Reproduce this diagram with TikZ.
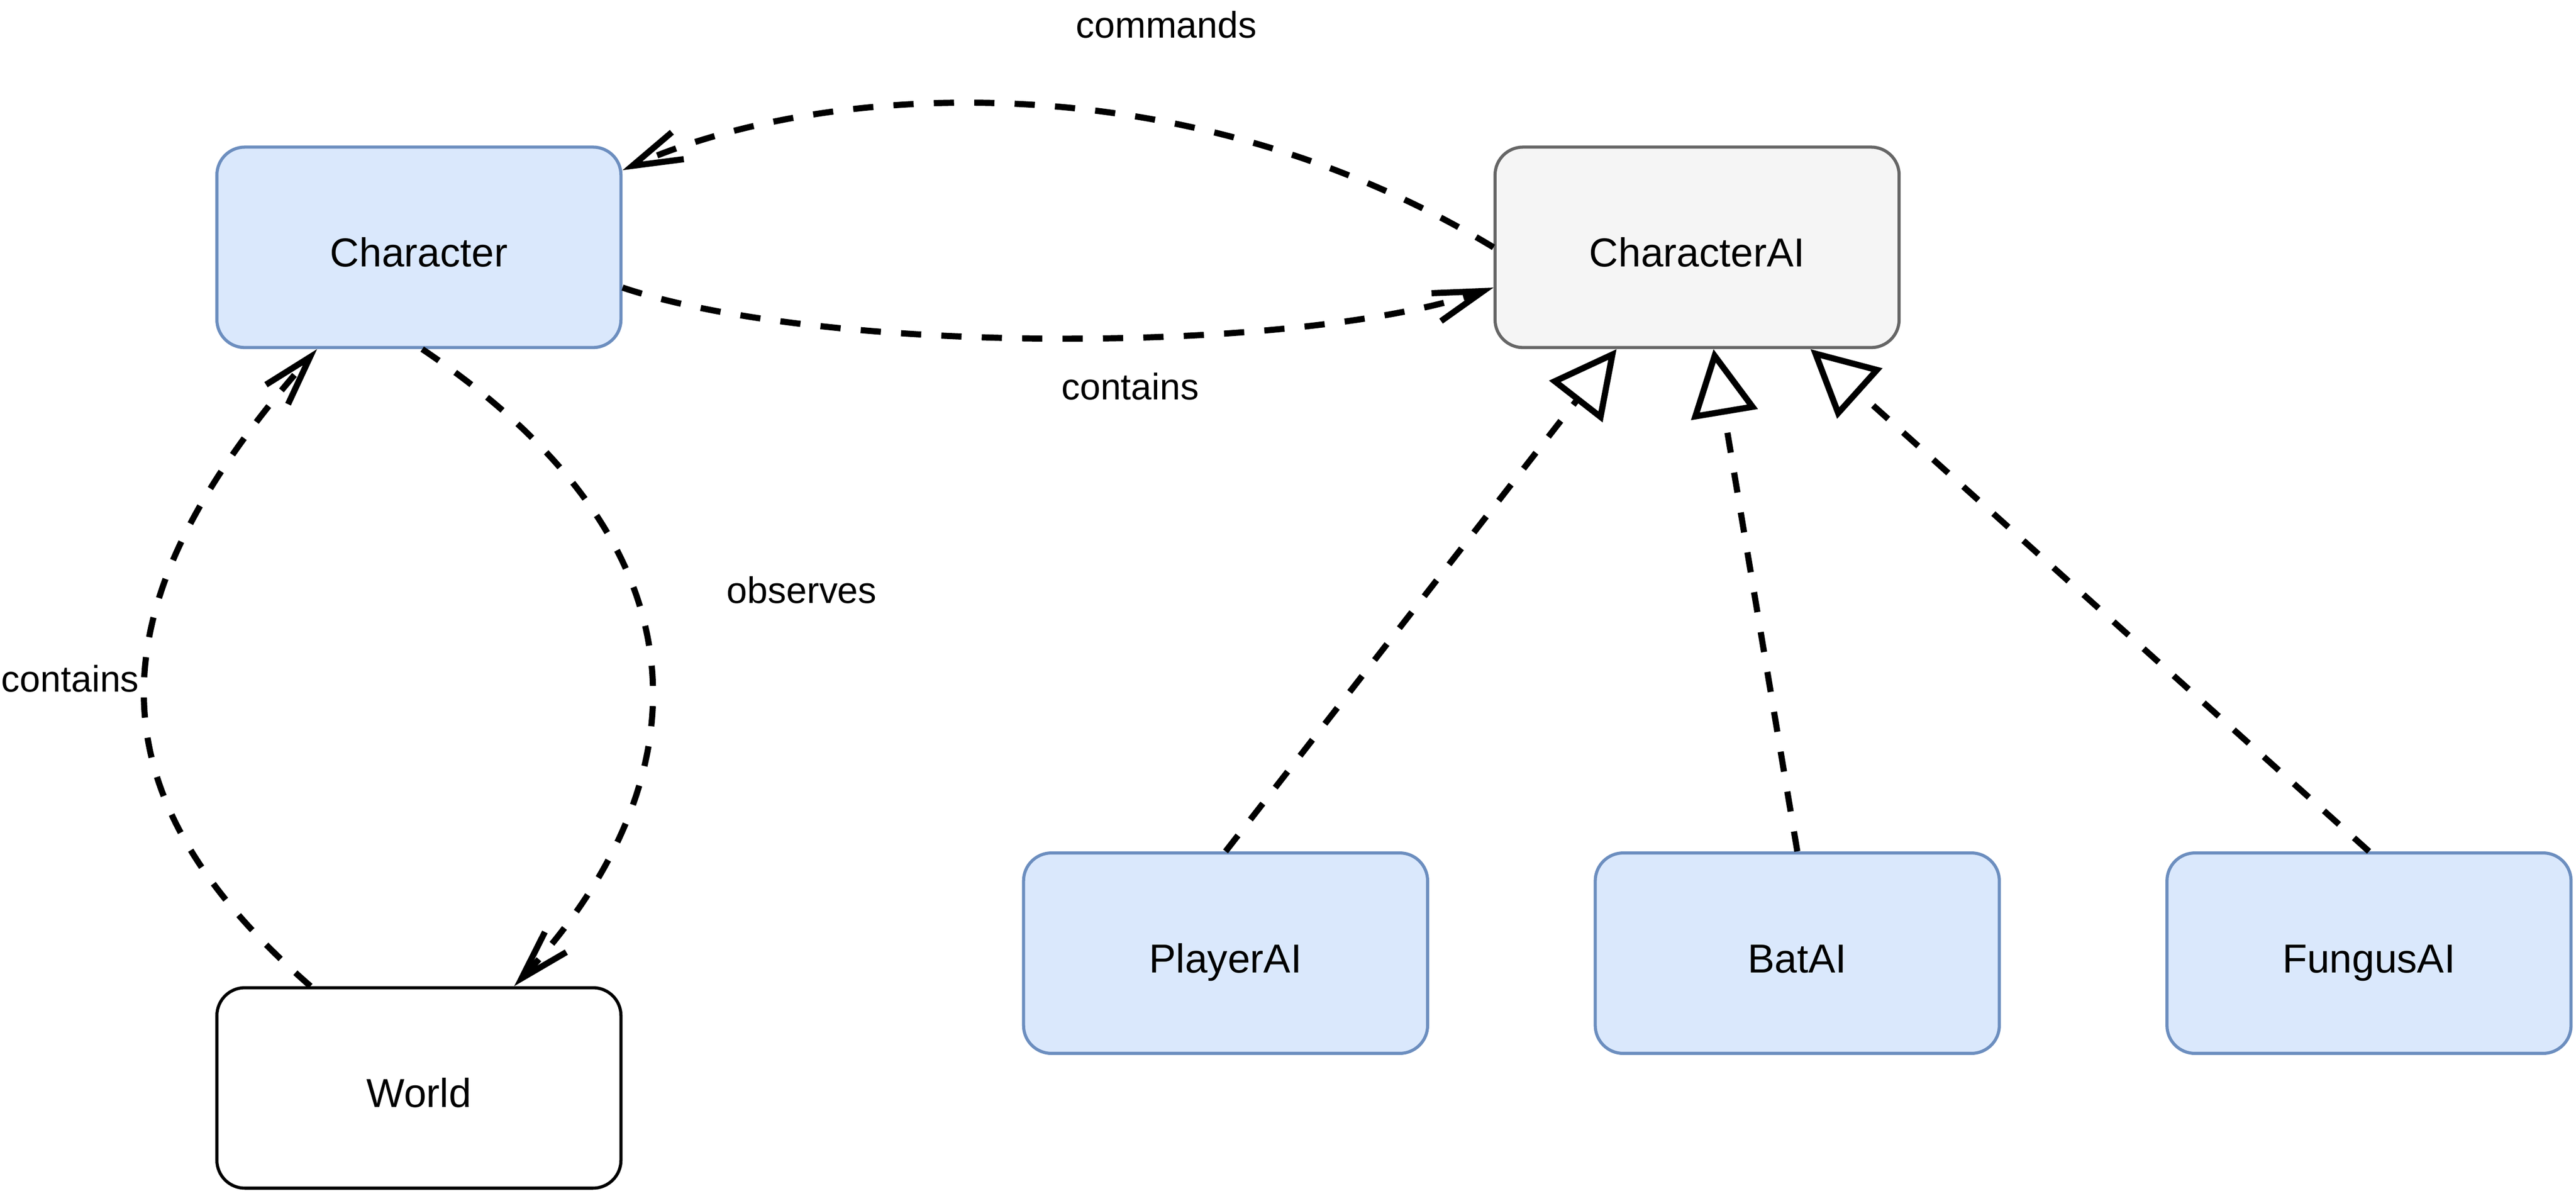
\documentclass[tikz,border=0pt]{standalone}
\usepackage{fontspec}
\setmainfont{Liberation Sans}
\usetikzlibrary{arrows.meta,calc}
\definecolor{bluefill}{HTML}{DAE8FC}
\definecolor{bluestroke}{HTML}{6C8EBF}
\definecolor{grayfill}{HTML}{F5F5F5}
\definecolor{graystroke}{HTML}{666666}
\begin{document}
\begin{tikzpicture}[x=0.02cm,y=-0.02cm,
 box/.style={rectangle, rounded corners=0.34cm, minimum width=4.92cm, minimum height=2.44cm, line width=1.08pt, font=\fontsize{14}{17}\selectfont, inner sep=0pt, text height=13.4pt, text depth=0pt},
 bluebox/.style={box, draw=bluestroke, fill=bluefill},
 graybox/.style={box, draw=graystroke, fill=grayfill},
 plainbox/.style={box, draw=black, fill=white},
 lbl/.style={font=\fontsize{12.8}{15}\selectfont, inner sep=0pt},
 conn/.style={line width=2.13pt, dash pattern=on 7pt off 7pt},
 assoc/.style={conn, -{Straight Barb[length=17.2pt, width=10.2pt, sharp, line width=2.13pt]}},
 realize/.style={conn, -{Triangle[open, length=23pt, width=23pt, line width=2.13pt, fill=white]}},
]
\useasboundingbox (0,0) rectangle (1568,724.6);
\node[bluebox] (ch) at (255,150.5) {Character};
\node[graybox] (cai) at (1033,150.5) {CharacterAI};
\node[plainbox] (w) at (255,662) {World};
\node[bluebox] (pa) at (746,580) {PlayerAI};
\node[bluebox] (ba) at (1094,580) {BatAI};
\node[bluebox] (fa) at (1442,580) {FungusAI};

% commands
\draw[assoc] (cai.west) .. controls +(-190,-115) and +(122,-54) .. ($(ch.north east)+(0,15)$);
% contains (top)
\draw[assoc] ($(ch.east)+(0,24.5)$) .. controls +(122,41) and +(-120,41) .. ($(cai.west)+(0,24.5)$);
% contains (left)
\draw[assoc] ($(w.north)+(-66,0)$) .. controls +(-137,-119) and +(-137,155) .. ($(ch.south)+(-62,0)$);
% observes
\draw[assoc] ($(ch.south)+(2,0)$) .. controls +(205,138) and +(93,-99) .. ($(w.north)+(58,0)$);
% realizations
\draw[realize] (pa.north) -- ($(cai.south)+(-49,0)$);
\draw[realize] (ba.north) -- ($(cai.south)+(10,0)$);
\draw[realize] (fa.north) -- ($(cai.south)+(69,0)$);

\node[lbl] (lcmd) at (710,15) {commands};
\node[lbl] (lcont) at (688,235) {contains};
\node[lbl, anchor=west] (lcont2) at (0.5,413) {contains};
\node[lbl] (lobs) at (488,359) {observes};
\end{tikzpicture}
\end{document}
